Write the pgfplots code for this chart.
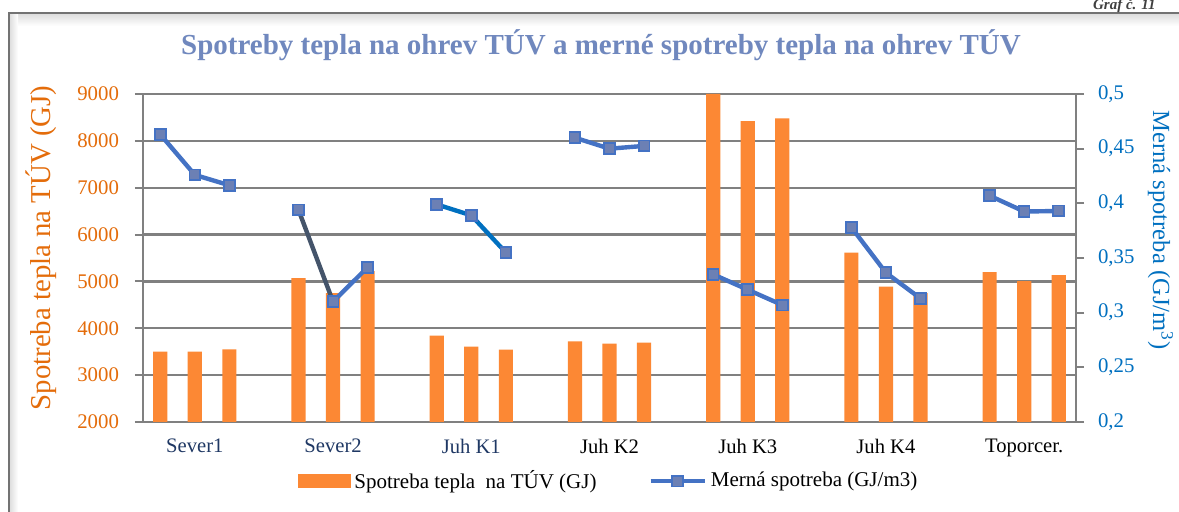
\documentclass[border=0pt]{standalone}
\usepackage{fontspec}
\setmainfont{Liberation Serif}
\usepackage{pgfplots}
\pgfplotsset{compat=1.18}

\definecolor{barorange}{RGB}{252,136,52}
\definecolor{lineblue}{RGB}{68,114,196}
\definecolor{navyline}{RGB}{68,84,106}
\definecolor{k1blue}{RGB}{0,112,192}
\definecolor{markfill}{RGB}{108,128,180}
\definecolor{leftorange}{RGB}{228,108,10}
\definecolor{rightblue}{RGB}{0,112,192}
\definecolor{catnavy}{RGB}{31,56,100}
\definecolor{titleblue}{RGB}{112,136,190}
\definecolor{gridgray}{RGB}{128,128,128}
\definecolor{framegray}{RGB}{115,115,115}

\pgfplotsset{
  common/.style={
    at={(71.5pt,-211pt)}, anchor=south west,
    scale only axis, width=466.5pt, height=164pt,
    xmin=-0.5, xmax=26.5,
    /pgf/number format/assume math mode=true,
    ticklabel style={font=\fontsize{10.4}{12}\selectfont},
    major tick length=4pt, tick align=outside,
    axis line style={gridgray, line width=1pt},
    every tick/.style={gridgray, line width=1pt},
  },
  merna/.style={mark=square*, line width=2.2pt, mark size=2.7pt,
    mark options={solid, fill=markfill, draw=lineblue, line width=0.9pt}},
  barlegend/.style={legend image code/.code={\fill[barorange] (0pt,-3.2pt) rectangle (26pt,3.2pt);}},
  linelegend/.style={legend image code/.code={\draw[mark repeat=2,mark phase=2,##1] plot coordinates {(0pt,0pt)(13.5pt,0pt)(27pt,0pt)};}},
}

\begin{document}
\begin{tikzpicture}
\useasboundingbox (0,0) rectangle (589.5pt,-256pt);
\fill[white] (0,0) rectangle (589.5pt,-256pt);
\clip (0,0) rectangle (589.5pt,-256pt);

% frame with soft shadow
\shade[top color=black!14, bottom color=white] (4.5pt,-6.5pt) rectangle (600pt,-13pt);
\shade[left color=black!14, right color=white] (4.5pt,-6.5pt) rectangle (9pt,-260pt);
\draw[framegray, line width=1.2pt] (4.4pt,-262pt) -- (4.4pt,-6.4pt) -- (600pt,-6.4pt);
\node[anchor=base east, inner sep=0pt, font=\bfseries\itshape\fontsize{7.5}{9}\selectfont, text=black!75] at (578pt,-4.6pt) {Graf č. 11};

% heat consumption (bars, left axis)
\begin{axis}[common,
  ymin=2000, ymax=9000, ytick={2000,3000,...,9000},
  ytick pos=left,
  /pgf/number format/1000 sep={},
  yticklabel style={leftorange, xshift=-4.5pt},
  xtick={1,5,9,13,17,21,25},
  xticklabels={\textcolor{catnavy}{Sever1},\textcolor{catnavy}{Sever2},\textcolor{catnavy}{Juh K1},Juh K2,Juh K3,Juh K4,Toporcer.},
  xtick style={draw=none},
  xticklabel style={font=\fontsize{10.3}{12}\selectfont, yshift=-1pt},
  ymajorgrids,
  major grid style={gridgray, line width=1.1pt},
]
\addplot[ybar, bar width=0.41, fill=barorange, draw=none] coordinates {
  (0,3500)(1,3500)(2,3550)
  (4,5070)(5,4750)(6,5220)
  (8,3845)(9,3610)(10,3545)
  (12,3720)(13,3675)(14,3695)
  (16,9000)(17,8420)(18,8480)
  (20,5615)(21,4890)(22,4750)
  (24,5200)(25,5005)(26,5135)
};
\end{axis}

% specific consumption (lines, right axis)
\begin{axis}[common,
  ymin=0.2, ymax=0.5, ytick={0.2,0.25,0.3,0.35,0.4,0.45,0.5},
  axis x line=none, axis y line*=right,
  /pgf/number format/use comma, /pgf/number format/fixed, /pgf/number format/precision=2,
  yticklabel style={rightblue, xshift=3.5pt},
  legend style={at={(0.5,-0.18)}, anchor=center, draw=none, fill=none,
    legend columns=2, font=\fontsize{10.5}{12}\selectfont,
    /tikz/every even column/.append style={column sep=24pt}},
]
\addplot[merna, lineblue, forget plot] coordinates {(0,0.463)(1,0.426)(2,0.4165)};
\addplot[merna, navyline, forget plot] coordinates {(4,0.394)(5,0.310)};
\addplot[merna, lineblue, forget plot] coordinates {(5,0.310)(6,0.3415)};
\addplot[merna, k1blue, forget plot] coordinates {(8,0.399)(9,0.389)(10,0.355)};
\addplot[merna, lineblue, forget plot] coordinates {(12,0.460)(13,0.450)(14,0.4525)};
\addplot[merna, lineblue, forget plot] coordinates {(16,0.335)(17,0.321)(18,0.307)};
\addplot[merna, lineblue, forget plot] coordinates {(20,0.378)(21,0.3365)(22,0.313)};
\addplot[merna, lineblue, forget plot] coordinates {(24,0.407)(25,0.3925)(26,0.393)};
\addlegendimage{barlegend}
\addlegendentry{Spotreba tepla\ \ na TÚV (GJ)}
\addlegendimage{merna, lineblue, linelegend}
\addlegendentry{Merná spotreba (GJ/m3)}
\end{axis}

\node[anchor=base, font=\bfseries\fontsize{14.5}{17}\selectfont, text=titleblue] at (300.5pt,-27.5pt)
  {Spotreby tepla na ohrev TÚV a merné spotreby tepla na ohrev TÚV};
\node[rotate=90, anchor=base, text=leftorange, font=\fontsize{14.4}{17}\selectfont] at (25pt,-124pt)
  {Spotreba tepla na TÚV (GJ)};
\node[rotate=-90, anchor=base, text=rightblue, font=\fontsize{12.3}{14}\selectfont] at (576.5pt,-115pt)
  {Merná spotreba (GJ/m\textsuperscript{3})};
\end{tikzpicture}
\end{document}
